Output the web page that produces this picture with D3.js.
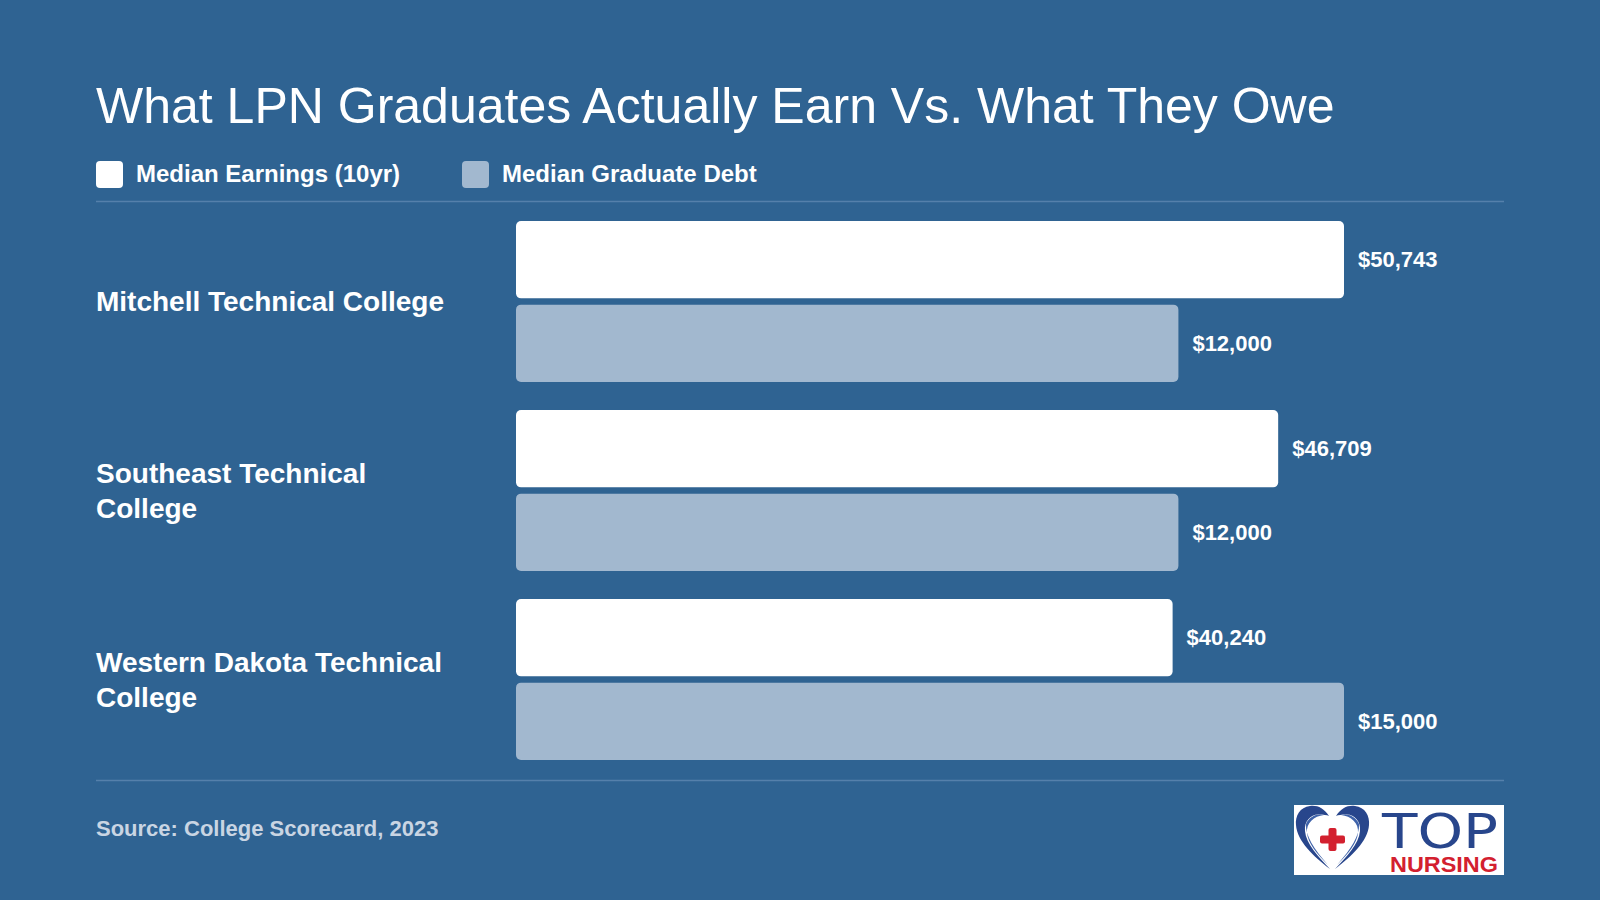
<!DOCTYPE html>
<html>
<head>
<meta charset="utf-8">
<script src="https://cdn.jsdelivr.net/npm/d3@7"></script>
<style>
  html, body { margin: 0; padding: 0; background: #2f6392; }
  svg { display: block; font-family: "Liberation Sans", Arial, Helvetica, sans-serif; }
</style>
</head>
<body>
<svg id="chart" width="1600" height="900"></svg>
<script>
// chart data
const colleges = ['Mitchell Technical College', 'Southeast Technical College', 'Western Dakota Technical College'];
const earnings = [50743, 46709, 40240];
const debt = [12000, 12000, 15000];
const seriesNames = ['Median Earnings (10yr)', 'Median Graduate Debt'];
const titleText = 'What LPN Graduates Actually Earn Vs. What They Owe';
const sourceText = 'Source: College Scorecard, 2023';

const width = 1600, height = 900;
const bg = '#2f6392';
const earnColor = '#ffffff';
const debtColor = '#a2b8cf';
const ruleColor = '#5580ab';

const svg = d3.select('#chart');
svg.append('rect').attr('width', width).attr('height', height).attr('fill', bg);

// title
svg.append('text')
  .attr('x', 96).attr('y', 123)
  .attr('fill', '#fff')
  .style('font-size', '50px')
  .text(titleText);

// legend
const legend = svg.append('g').attr('transform', 'translate(96,161)');
const legendX = [0, 366];
seriesNames.forEach((name, i) => {
  const item = legend.append('g').attr('transform', `translate(${legendX[i]},0)`);
  item.append('rect')
    .attr('width', 27).attr('height', 27).attr('rx', 4)
    .attr('fill', i === 0 ? earnColor : debtColor);
  item.append('text')
    .attr('x', 40).attr('y', 21)
    .attr('fill', '#fff')
    .style('font-size', '24px').style('font-weight', 'bold')
    .text(name);
});

// rules
svg.append('line').attr('x1', 96).attr('x2', 1504).attr('y1', 201.5).attr('y2', 201.5)
  .attr('stroke', ruleColor).attr('stroke-width', 1.5);
svg.append('line').attr('x1', 96).attr('x2', 1504).attr('y1', 780.5).attr('y2', 780.5)
  .attr('stroke', ruleColor).attr('stroke-width', 1.5);

// scales: each series is scaled to its own max
const y = d3.scaleBand().domain(colleges).range([221, 760]).paddingInner(0.148);
const ySeries = d3.scaleBand().domain(['earn', 'debt']).range([0, y.bandwidth()]).paddingInner(0.075);
const xEarn = d3.scaleLinear().domain([0, d3.max(earnings)]).range([516, 1344]);
const xDebt = d3.scaleLinear().domain([0, d3.max(debt)]).range([516, 1344]);
const fmt = v => '$' + d3.format(',')(v);

const groups = svg.selectAll('g.group')
  .data(colleges.map((c, i) => ({ name: c, earn: earnings[i], debt: debt[i] })))
  .join('g')
  .attr('class', 'group')
  .attr('transform', d => `translate(0,${y(d.name)})`);

function addBar(sel, key, xs, color) {
  sel.append('rect')
    .attr('x', xs(0))
    .attr('y', ySeries(key))
    .attr('width', d => xs(d[key]) - xs(0))
    .attr('height', ySeries.bandwidth())
    .attr('rx', 5)
    .attr('fill', color);
  sel.append('text')
    .attr('x', d => xs(d[key]) + 14)
    .attr('y', ySeries(key) + ySeries.bandwidth() / 2)
    .attr('dy', '0.35em')
    .attr('fill', '#fff')
    .style('font-size', '22px').style('font-weight', 'bold')
    .text(d => fmt(d[key]));
}
addBar(groups, 'earn', xEarn, earnColor);
addBar(groups, 'debt', xDebt, debtColor);

// category labels, wrapped
const lineH = 35;
groups.each(function(d) {
  const g = d3.select(this);
  const t = g.append('text')
    .attr('x', 96)
    .attr('fill', '#fff')
    .style('font-size', '28px').style('font-weight', 'bold');
  const words = d.name.split(' ');
  const lines = [];
  let cur = [];
  const probe = t.append('tspan');
  words.forEach(w => {
    const test = cur.concat(w).join(' ');
    probe.text(test);
    if (probe.node().getComputedTextLength() > 360 && cur.length) {
      lines.push(cur.join(' '));
      cur = [w];
    } else {
      cur.push(w);
    }
  });
  lines.push(cur.join(' '));
  probe.remove();
  const mid = y.bandwidth() / 2;
  const top = mid - (lines.length - 1) * lineH / 2;
  lines.forEach((l, i) => {
    t.append('tspan').attr('x', 96).attr('y', top + i * lineH).attr('dy', '0.35em').text(l);
  });
});

// source
svg.append('text')
  .attr('x', 96).attr('y', 836)
  .attr('fill', '#c9d5e3')
  .style('font-size', '22px').style('font-weight', 'bold')
  .text(sourceText);

// logo
const logo = svg.append('g').attr('transform', 'translate(1294,805)');
logo.append('rect').attr('width', 210).attr('height', 70).attr('fill', '#fff');
const navy = '#28468c';
const red = '#d3202f';
// heart made of two crescents
const leftCrescent = 'M35,11 C30,3 23,0 16,1 C6,2 1,11 2,20 C3,36 20,52 36,64 C24,51 12,39 11,26 C10,16 17,9 25,9.5 C29,9.5 33,10 35,11 Z';
logo.append('path').attr('d', leftCrescent).attr('fill', navy);
logo.append('path').attr('d', leftCrescent).attr('fill', navy)
  .attr('transform', 'translate(77,0) scale(-1,1)');
// lighter inner shading
const innerShade = 'M30,10 C24,8 15,11 12,19 C11,30 20,44 34,60 C22,48 14,38 13,28 C12,18 20,11 30,10 Z';
logo.append('path').attr('d', innerShade).attr('fill', '#3f63aa');
logo.append('path').attr('d', innerShade).attr('fill', '#3f63aa')
  .attr('transform', 'translate(77,0) scale(-1,1)');
// cross
logo.append('rect').attr('x', 34.5).attr('y', 23).attr('width', 8).attr('height', 23).attr('rx', 2).attr('fill', red);
logo.append('rect').attr('x', 26).attr('y', 30.5).attr('width', 25).attr('height', 8).attr('rx', 2).attr('fill', red);
logo.append('text')
  .attr('x', 88).attr('y', 43)
  .attr('fill', navy)
  .style('font-family', '"DejaVu Sans", sans-serif')
  .style('font-size', '48px')
  .attr('textLength', 116).attr('lengthAdjust', 'spacingAndGlyphs')
  .text('TOP');
logo.append('text')
  .attr('x', 96).attr('y', 67)
  .attr('fill', red)
  .style('font-size', '22px').style('font-weight', 'bold')
  .attr('textLength', 108).attr('lengthAdjust', 'spacingAndGlyphs')
  .text('NURSING');
</script>
</body>
</html>
